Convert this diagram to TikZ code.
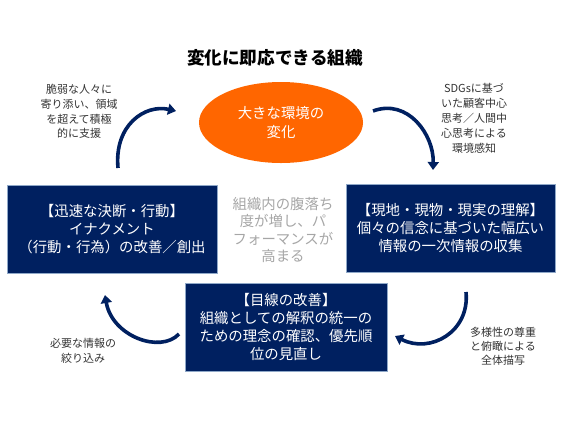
\documentclass[tikz,border=0pt]{standalone}
\usepackage{fontspec}
\setmainfont{Noto Sans CJK JP}
\usepackage{tikz}
\usetikzlibrary{arrows.meta, positioning, shapes.geometric}
\definecolor{cnavy}{HTML}{002060}
\definecolor{cedge}{HTML}{8FA8C8}
\definecolor{corange}{HTML}{FF6600}
\definecolor{cgray}{HTML}{A6A6A6}
\definecolor{cdark}{HTML}{333333}

\begin{document}
\begin{tikzpicture}[
  x=1bp, y=-1bp,
  box/.style={draw=cedge, line width=0.8bp, fill=cnavy, text=white, minimum width=#1, minimum height=88bp, align=center, inner sep=0pt, font=\fontsize{14.4bp}{18bp}\selectfont},
  note/.style={align=center, text=cdark, inner sep=0pt, font=\fontsize{11bp}{14.6bp}\selectfont},
  flow/.style={-{Triangle[length=8bp, width=11bp]}, line width=3.6bp, cnavy}
]
  \useasboundingbox (0,0) rectangle (564,422);

  \node[font=\fontsize{17.6bp}{20bp}\selectfont\bfseries, inner sep=0pt] (title) at (275,58) {変化に即応できる組織};

  \node[ellipse, fill=corange, text=white, minimum width=164bp, minimum height=81bp, inner sep=0pt, align=center, font=\fontsize{14.4bp}{19bp}\selectfont] (env) at (281,122.5) {大きな環境の\\変化};

  \node[box=210bp] (act) at (112,229) {【迅速な決断・行動】\\イナクメント\\（行動・行為）の改善／創出};
  \node[box=209bp] (field) at (450.5,228) {【現地・現物・現実の理解】\\個々の信念に基づいた幅広い\\情報の一次情報の収集};
  \node[box=202bp] (view) at (286,327) {【目線の改善】\\組織としての解釈の統一の\\ための理念の確認、優先順\\位の見直し};

  \node[align=center, text=cgray, inner sep=0pt, font=\fontsize{14.4bp}{17.3bp}\selectfont] (core) at (283,230) {組織内の腹落ち\\度が増し、パ\\フォーマンスが\\高まる};

  \node[note] (tl) at (79,111.5) {脆弱な人々に\\寄り添い、領域\\を超えて積極\\的に支援};
  \node[note, font=\fontsize{11bp}{15bp}\selectfont] (tr) at (474,118) {SDGsに基づ\\いた顧客中心\\思考／人間中\\心思考による\\環境感知};
  \node[note] (bl) at (83,351) {必要な情報の\\絞り込み};
  \node[note, font=\fontsize{11bp}{14bp}\selectfont] (br) at (503,346.5) {多様性の尊重\\と俯瞰による\\全体描写};

  % curved arrows round the cycle
  \coordinate (tl1) at (118,168);
  \coordinate (tl2) at (176,111);
  \coordinate (tr1) at (373,111);
  \coordinate (tr2) at (433,170);
  \coordinate (br1) at (466,292);
  \coordinate (br2) at (395,336);
  \coordinate (bl1) at (179,334);
  \coordinate (bl2) at (105,295);

  \draw[flow] (tl1) .. controls (114,125) and (145,104) .. (tl2);
  \draw[flow] (tr1) .. controls (408,98) and (434,135) .. (tr2);
  \draw[flow] (br1) .. controls (470,332) and (430,354) .. (br2);
  \draw[flow] (bl1) .. controls (160,354) and (112,336) .. (bl2);
\end{tikzpicture}
\end{document}
